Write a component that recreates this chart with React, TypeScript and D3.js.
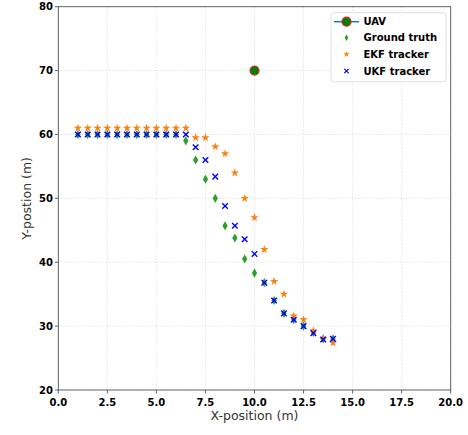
import React from "react";
import * as d3 from "d3";

// x positions (m), one every 0.5 m
const xPos = [1, 1.5, 2, 2.5, 3, 3.5, 4, 4.5, 5, 5.5, 6, 6.5, 7, 7.5, 8, 8.5, 9, 9.5, 10, 10.5, 11, 11.5, 12, 12.5, 13, 13.5, 14];
const groundTruth = [60, 60, 60, 60, 60, 60, 60, 60, 60, 60, 60, 59, 56, 53, 50, 45.7, 43.8, 40.5, 38.3, 36.8, 34, 32, 31, 30, 29, 28, 28];
const ekf = [61, 61, 61, 61, 61, 61, 61, 61, 61, 61, 61, 61, 59.5, 59.5, 58.1, 57, 54, 50, 47, 42, 37, 35, 31.6, 31, 29.3, 28, 27.4];
const ukf = [60, 60, 60, 60, 60, 60, 60, 60, 60, 60, 60, 60, 58, 56, 53.4, 48.8, 45.7, 43.6, 41.3, 36.8, 34, 32, 31, 30, 28.9, 27.9, 28];
const uav = [10, 70];

const xTicks = [0, 2.5, 5, 7.5, 10, 12.5, 15, 17.5, 20];
const yTicks = [20, 30, 40, 50, 60, 70, 80];
const legendLabels = ["UAV", "Ground truth", "EKF tracker", "UKF tracker"];

const W = 468;
const H = 435;
const left = 58.3, right = 450.7, top = 6.7, bottom = 390;

const green = "#2ca02c";
const orange = "#ff7f0e";
const blue = "#0000ff";

const diamond = d3.symbol().type(d3.symbolDiamond).size(24);
const star = d3.symbol().type(d3.symbolStar).size(22);
const xMark = (r) => `M${-r},${-r}L${r},${r}M${-r},${r}L${r},${-r}`;

export default function App() {
  const x = d3.scaleLinear().domain([0, 20]).range([left, right]);
  const y = d3.scaleLinear().domain([20, 80]).range([bottom, top]);
  const font = "DejaVu Sans";

  const lgX = 331, lgY = 12.7;
  const rows = [21.7, 37.7, 54.3, 71];

  return (
    <svg width={W} height={H} style={{ position: "absolute", left: 0, top: 0, background: "#fff" }} fontFamily={font}>
      {/* grid */}
      {xTicks.map((t) => (
        <line key={"gx" + t} x1={x(t)} x2={x(t)} y1={top} y2={bottom} stroke="#cfcfcf" strokeWidth={0.8} strokeDasharray="1,2" />
      ))}
      {yTicks.map((t) => (
        <line key={"gy" + t} x1={left} x2={right} y1={y(t)} y2={y(t)} stroke="#cfcfcf" strokeWidth={0.8} strokeDasharray="1,2" />
      ))}

      {/* UAV */}
      <circle cx={x(uav[0])} cy={y(uav[1])} r={4.5} fill="green" stroke="#d62728" strokeWidth={1.2} />

      {/* ground truth */}
      {xPos.map((v, i) => (
        <path key={"g" + i} d={diamond()} transform={`translate(${x(v)},${y(groundTruth[i])})`} fill={green} />
      ))}
      {/* EKF */}
      {xPos.map((v, i) => (
        <path key={"e" + i} d={star()} transform={`translate(${x(v)},${y(ekf[i])})`} fill={orange} />
      ))}
      {/* UKF */}
      {xPos.map((v, i) => (
        <path key={"u" + i} d={xMark(2.8)} transform={`translate(${x(v)},${y(ukf[i])})`} stroke={blue} strokeWidth={1.4} fill="none" />
      ))}

      {/* frame */}
      <rect x={left} y={top} width={right - left} height={bottom - top} fill="none" stroke="#555" strokeWidth={0.9} />

      {/* ticks */}
      {xTicks.map((t) => (
        <g key={"tx" + t}>
          <line x1={x(t)} x2={x(t)} y1={bottom} y2={bottom + 3.5} stroke="#555" strokeWidth={0.9} />
          <text x={x(t)} y={406} textAnchor="middle" fontSize={10} fontWeight="bold" fill="#000">
            {t.toFixed(1)}
          </text>
        </g>
      ))}
      {yTicks.map((t) => (
        <g key={"ty" + t}>
          <line x1={left - 3.5} x2={left} y1={y(t)} y2={y(t)} stroke="#555" strokeWidth={0.9} />
          <text x={53} y={y(t)} dy="0.35em" textAnchor="end" fontSize={10} fontWeight="bold" fill="#000">
            {t}
          </text>
        </g>
      ))}

      {/* axis labels */}
      <text x={(left + right) / 2} y={420} textAnchor="middle" fontSize={12.5} fill="#333">
        X-position (m)
      </text>
      <text transform={`translate(31,${(top + bottom) / 2}) rotate(-90)`} textAnchor="middle" fontSize={12.5} fill="#333">
        Y-postion (m)
      </text>

      {/* legend */}
      <rect x={lgX} y={lgY} width={115} height={69} rx={2.5} fill="#fff" fillOpacity={0.85} stroke="#d8d8d8" strokeWidth={0.8} />
      <line x1={334} x2={359} y1={rows[0]} y2={rows[0]} stroke="#1f77b4" strokeWidth={1.5} />
      <circle cx={346.5} cy={rows[0]} r={4.5} fill="green" stroke="#d62728" strokeWidth={1.2} />
      <path d={d3.symbol().type(d3.symbolDiamond).size(12)()} transform={`translate(346.5,${rows[1]})`} fill={green} />
      <path d={d3.symbol().type(d3.symbolStar).size(12)()} transform={`translate(346.5,${rows[2]})`} fill={orange} />
      <path d={xMark(2.2)} transform={`translate(346.5,${rows[3]})`} stroke={blue} strokeWidth={1.2} fill="none" />
      {legendLabels.map((l, i) => (
        <text key={l} x={363.5} y={rows[i]} dy="0.35em" fontSize={10} fontWeight="bold" fill="#000">
          {l}
        </text>
      ))}
    </svg>
  );
}
